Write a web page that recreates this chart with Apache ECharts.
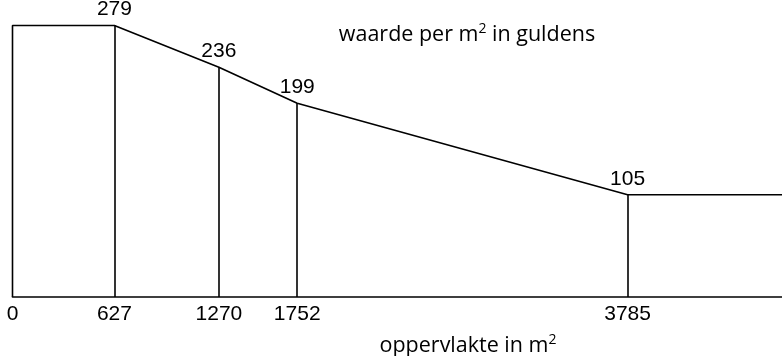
<!DOCTYPE html>
<html>
<head>
<meta charset="utf-8">
<script src="https://cdn.jsdelivr.net/npm/echarts@6/dist/echarts.min.js"></script>
<style>
  html, body { margin: 0; padding: 0; background: #fff; }
  #chart { width: 782px; height: 356px; }
</style>
</head>
<body>
<div id="chart"></div>
<script>
// Area breakpoints (m²) and value per m² (guldens) at each breakpoint
const areaBreaks = [0, 627, 1270, 1752, 3785];
const valuePerM2 = [279, 279, 236, 199, 105];
// axis tick labels
const tickLabels = [0, 627, 1270, 1752, 3785];
// which breakpoints carry a value label
const labelledBreaks = [627, 1270, 1752, 3785];
// the flat tail continues past the last breakpoint up to this area
const areaAxisMax = 4735;
const valueAxisMax = 300;

const numFont = 'Liberation Sans';
const txtFont = 'Open Sans';
const ink = '#000';

// line path: baseline up to first value, then the value curve, then flat tail
const lineData = [[areaBreaks[0], 0]];
areaBreaks.forEach((a, i) => lineData.push([a, valuePerM2[i]]));
lineData.push([areaAxisMax, valuePerM2[valuePerM2.length - 1]]);

// labelled points
const labelData = labelledBreaks.map(a => [a, valuePerM2[areaBreaks.indexOf(a)]]);

// vertical drop lines at labelled breakpoints
const dropLines = labelData.map(p => [{ coord: [p[0], 0] }, { coord: [p[0], p[1]] }]);

const rich = {
  a: { fontFamily: txtFont, fontSize: 21.5, lineHeight: 26, color: ink },
  s: { fontFamily: txtFont, fontSize: 14, lineHeight: 16, verticalAlign: 'top', color: ink }
};

const chart = echarts.init(document.getElementById('chart'), null, { renderer: 'canvas' });
chart.setOption({
  animation: false,
  backgroundColor: '#fff',
  title: [
    {
      text: '{a|waarde per m}{s|2}{a| in guldens}',
      left: 467, top: 22, padding: 0, textAlign: 'center',
      textStyle: { rich: rich, fontFamily: txtFont, fontSize: 21.5, fontWeight: 'normal', color: ink }
    },
    {
      text: '{a|oppervlakte in m}{s|2}',
      left: 468, top: 333, padding: 0, textAlign: 'center',
      textStyle: { rich: rich, fontFamily: txtFont, fontSize: 21.5, fontWeight: 'normal', color: ink }
    }
  ],
  grid: { left: 12.5, right: 0, top: 5, bottom: 59, containLabel: false },
  xAxis: {
    type: 'value',
    min: 0,
    max: areaAxisMax,
    splitLine: { show: false },
    axisLine: { show: true, lineStyle: { color: ink, width: 1.6 } },
    axisTick: { show: false },
    axisLabel: {
      customValues: tickLabels,
      showMinLabel: true, showMaxLabel: true,
      hideOverlap: false,
      margin: 7,
      fontFamily: numFont, fontSize: 21, color: ink,
      formatter: v => String(v)
    }
  },
  yAxis: {
    type: 'value',
    min: 0,
    max: valueAxisMax,
    show: false,
    splitLine: { show: false }
  },
  series: [
    {
      type: 'line',
      data: lineData,
      showSymbol: false,
      symbol: 'none',
      clip: false,
      lineStyle: { color: ink, width: 1.6 },
      markLine: {
        silent: true,
        symbol: ['none', 'none'],
        label: { show: false },
        lineStyle: { color: ink, width: 1.6, type: 'solid' },
        data: dropLines
      }
    },
    {
      type: 'scatter',
      data: labelData,
      symbol: 'circle',
      symbolSize: 1,
      clip: false,
      itemStyle: { color: 'rgba(0,0,0,0)' },
      silent: true,
      label: {
        show: true,
        position: 'top',
        distance: 5,
        fontFamily: numFont, fontSize: 21, color: ink, opacity: 1,
        formatter: p => String(p.value[1])
      }
    }
  ]
});
</script>
</body>
</html>
